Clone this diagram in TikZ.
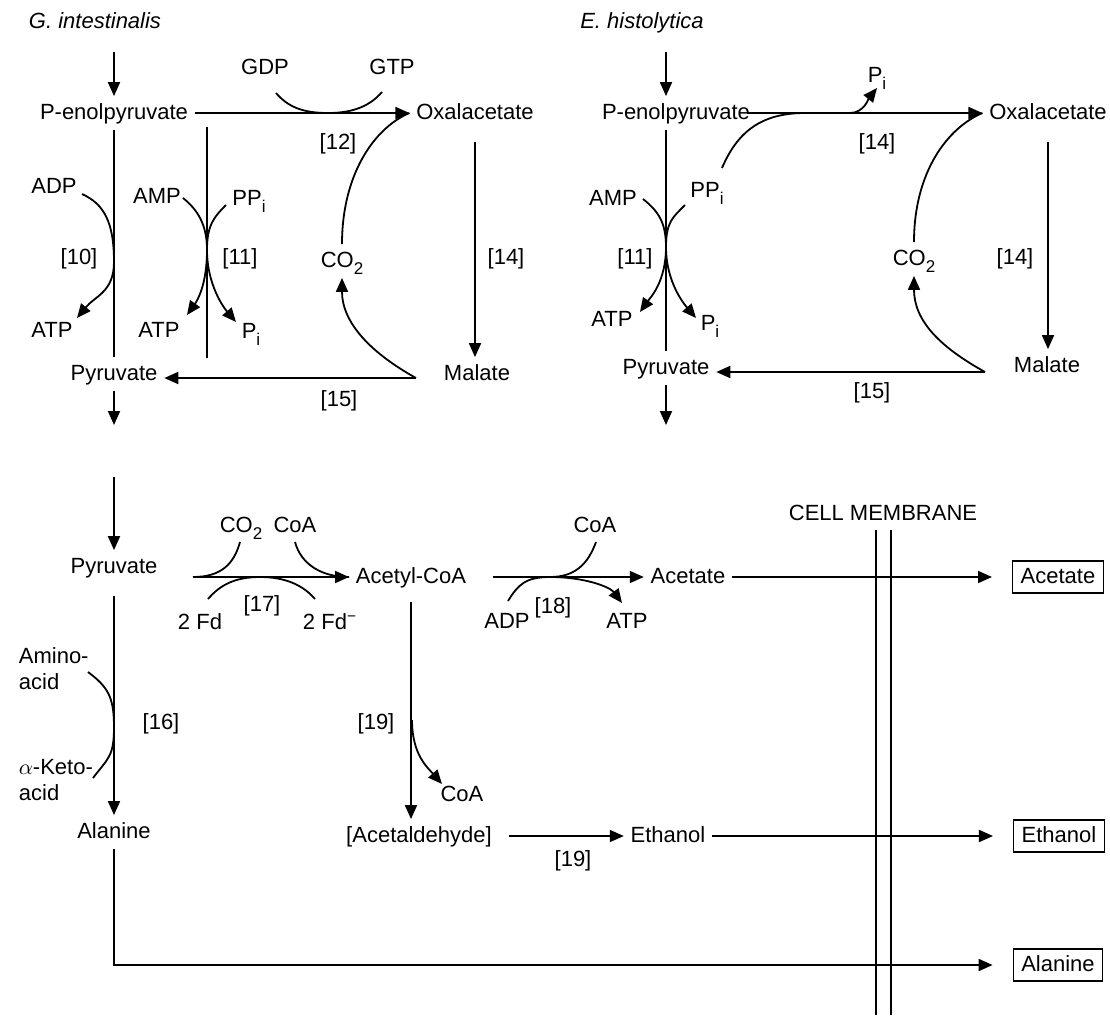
\documentclass[tikz,border=0pt]{standalone}
\usepackage{fontspec}
\setmainfont{Liberation Sans}
\usetikzlibrary{arrows.meta}
\newcommand\chsub[1]{\raisebox{-0.32em}{\fontsize{8.5}{9}\selectfont #1}}

\begin{document}
\begin{tikzpicture}[x=0.5pt,y=-0.5pt,line width=0.9pt,
  chem/.style={inner sep=3pt, text height=8pt, text depth=2pt, font=\fontsize{11}{13}\selectfont},
  twoline/.style={inner sep=0pt, align=left, anchor=west, font=\fontsize{11}{13}\selectfont},
  outbox/.style={chem, draw, line width=0.7pt, inner xsep=4pt, inner ysep=3pt},
  arr/.style={-{Triangle[length=7pt,width=6pt]}}]
  \useasboundingbox (0,0) rectangle (1110,1019);

  % G. intestinalis
  \node[chem, font=\fontsize{11}{13}\selectfont\itshape] (titA) at (95,22) {G. intestinalis};
  \path (114,113) node (penolA) [chem] {P-enolpyruvate};
  \path (475,113) node (oxaA) [chem] {Oxalacetate};
  \path (114,374) node (pyrA) [chem] {Pyruvate};
  \path (477,374) node (malA) [chem] {Malate};
  \node[chem] (gdpA) at (265,68) {GDP};
  \node[chem] (gtpA) at (392,68) {GTP};
  \node[chem] (adpA) at (54,187) {ADP};
  \node[chem] (atpA) at (52,331) {ATP};
  \node[chem] (ampA) at (157,197) {AMP};
  \node[chem] (ppiA) at (249,199) {PP\chsub{i}};
  \node[chem] (atpA2) at (159,331) {ATP};
  \node[chem] (piA) at (251,332) {P\chsub{i}};
  \node[chem] (co2A) at (342,261) {CO\chsub{2}};
  \node[chem] (n10A) at (79,258) {[10]};
  \node[chem] (n11A) at (240,258) {[11]};
  \node[chem] (n12A) at (338,143) {[12]};
  \node[chem] (n14A) at (506,258) {[14]};
  \node[chem] (n15A) at (339,400) {[15]};

  \coordinate (inA) at (114,52);
  \coordinate (outA) at (114,425);
  \coordinate (k12s) at (276,93);
  \coordinate (k12m) at (328,113);
  \coordinate (k12e) at (382,92);
  \coordinate (k10s) at (82,194);
  \coordinate (k10m) at (114,262);
  \coordinate (k10e) at (77,318);
  \coordinate (k11t) at (207,127);
  \coordinate (k11b) at (207,358);
  \coordinate (k11a) at (183,198);
  \coordinate (k11p) at (226,205);
  \coordinate (k11m) at (207,250);
  \coordinate (k11x) at (187,315);
  \coordinate (k11y) at (236,322);
  \coordinate (k15A) at (416,378);

  \draw[arr] (inA) -- (penolA.north);
  \draw[arr] (penolA.east) -- (oxaA.west);
  \draw (k12s) .. controls +(12,14) and +(-25,0) .. (k12m) .. controls +(25,0) and +(-12,14) .. (k12e);
  \draw (penolA.south) -- (pyrA.north);
  \draw[arr] (k10s) .. controls +(22,10) and +(0,-40) .. (k10m) .. controls +(0,30) and +(18,-22) .. (k10e);
  \draw (k11t) -- (k11b);
  \draw (k11a) .. controls +(15,12) and +(0,-25) .. (k11m);
  \draw (k11p) .. controls +(-12,12) and +(0,-25) .. (k11m);
  \draw[arr] (k11m) .. controls +(0,35) and +(10,-14) .. (k11x);
  \draw[arr] (k11m) .. controls +(0,35) and +(-12,-14) .. (k11y);
  \draw (co2A.north) .. controls +(0,-70) and +(-35,15) .. (oxaA.west);
  \draw[arr, shorten <=6pt] (oxaA.south) -- (oxaA.south |- malA.north);
  \draw[arr] (k15A) .. controls +(-45,-25) and +(0,45) .. (co2A.south);
  \draw[arr] (k15A) -- (k15A -| pyrA.east);
  \draw[arr] (pyrA.south) -- (outA);

  % E. histolytica
  \node[chem, font=\fontsize{11}{13}\selectfont\itshape] (titB) at (642,22) {E. histolytica};
  \path (676,113) node (penolB) [chem] {P-enolpyruvate};
  \path (1048,113) node (oxaB) [chem] {Oxalacetate};
  \path (666,368) node (pyrB) [chem] {Pyruvate};
  \path (1047,366) node (malB) [chem] {Malate};
  \node[chem] (piB) at (877,76) {P\chsub{i}};
  \node[chem] (ampB) at (613,199) {AMP};
  \node[chem] (ppiB) at (707,191) {PP\chsub{i}};
  \node[chem] (atpB) at (612,320) {ATP};
  \node[chem] (piB2) at (710,324) {P\chsub{i}};
  \node[chem] (co2B) at (914,259) {CO\chsub{2}};
  \node[chem] (n11B) at (635,258) {[11]};
  \node[chem] (n14B) at (877,143) {[14]};
  \node[chem] (n14C) at (1015,258) {[14]};
  \node[chem] (n15B) at (872,392) {[15]};

  \coordinate (inB) at (666,52);
  \coordinate (outB) at (666,425);
  \coordinate (k11aB) at (643,199);
  \coordinate (k11pB) at (685,205);
  \coordinate (k11mB) at (666,247);
  \coordinate (k11xB) at (640,312);
  \coordinate (k11yB) at (696,318);
  \coordinate (k14s) at (722,168);
  \coordinate (k14t) at (805,113);
  \coordinate (k14u) at (850,113);
  \coordinate (k14e) at (877,88);
  \coordinate (k15B) at (985,372);

  \draw[arr] (inB) -- (inB |- penolB.north);
  \draw[arr, shorten <=-5pt] (penolB.east) -- (oxaB.west);
  \draw[arr] (k14s) .. controls +(15,-35) and +(-45,0) .. (k14t) -- (k14u) .. controls +(14,0) and +(-8,10) .. (k14e);
  \draw (penolB.south -| pyrB) -- (pyrB.north);
  \draw (k11aB) .. controls +(15,12) and +(0,-25) .. (k11mB);
  \draw (k11pB) .. controls +(-12,12) and +(0,-25) .. (k11mB);
  \draw[arr] (k11mB) .. controls +(0,35) and +(10,-14) .. (k11xB);
  \draw[arr] (k11mB) .. controls +(0,35) and +(-12,-14) .. (k11yB);
  \draw (co2B.north) .. controls +(0,-70) and +(-35,15) .. (oxaB.west);
  \draw[arr, shorten <=6pt] (oxaB.south) -- (oxaB.south |- malB.north);
  \draw[arr] (k15B) .. controls +(-45,-25) and +(0,45) .. (co2B.south);
  \draw[arr] (k15B) -- (k15B -| pyrB.east);
  \draw[arr] (pyrB.south) -- (outB);

  % end products
  \path (114,567) node (pyrC) [chem] {Pyruvate};
  \path (411,577) node (acoaC) [chem] {Acetyl-CoA};
  \path (688,577) node (acetC) [chem] {Acetate};
  \path (114,832) node (alaC) [chem] {Alanine};
  \path (419,836) node (acetalC) [chem] {[Acetaldehyde]};
  \path (668,836) node (ethC) [chem] {Ethanol};
  \node[chem] (co2C) at (241,526) {CO\chsub{2}};
  \node[chem] (coaC) at (295,526) {CoA};
  \node[chem] (fdC) at (200,623) {2 Fd};
  \node[chem] (fdmC) at (330,623) {2 Fd\textsuperscript{−}};
  \node[chem] (coaD) at (595,526) {CoA};
  \node[chem] (adpC) at (507,622) {ADP};
  \node[chem] (atpC) at (627,622) {ATP};
  \node[chem] (coaE) at (462,795) {CoA};
  \node[twoline] (aminoC) at (18,669) {Amino-\\acid};
  \node[twoline] (ketoC) at (18,780) {$\alpha$-Keto-\\acid};
  \node[chem] (n16) at (161,723) {[16]};
  \node[chem] (n17) at (262,605) {[17]};
  \node[chem] (n18) at (553,607) {[18]};
  \node[chem] (n19A) at (376,723) {[19]};
  \node[chem] (n19B) at (573,860) {[19]};
  \node[chem] (memC) at (883,514) {CELL MEMBRANE};
  \node[outbox] (boxAc) at (1058,577) {Acetate};
  \node[outbox] (boxEt) at (1059,836) {Ethanol};
  \node[outbox] (boxAl) at (1058,965) {Alanine};

  \coordinate (inC) at (114,477);
  \coordinate (k17s) at (193,577);
  \coordinate (k17a) at (240,542);
  \coordinate (k17b) at (295,542);
  \coordinate (k17c) at (208,599);
  \coordinate (k17m) at (260,577);
  \coordinate (k17d) at (315,599);
  \coordinate (k18s) at (493,577);
  \coordinate (k18a) at (596,542);
  \coordinate (k18m) at (550,577);
  \coordinate (k18b) at (508,601);
  \coordinate (k18e) at (622,603);
  \coordinate (k19a) at (412,720);
  \coordinate (k19e) at (442,784);
  \coordinate (k16a) at (88,672);
  \coordinate (k16m) at (114,727);
  \coordinate (k16b) at (93,778);

  \draw[arr] (inC) -- (pyrC.north);
  \draw[arr] (k17s) -- (acoaC.west);
  \draw (k17a) .. controls +(-6,22) and +(28,0) .. (k17s);
  \draw (k17b) .. controls +(6,22) and +(-28,0) .. (acoaC.west);
  \draw (k17c) .. controls +(12,-14) and +(-25,0) .. (k17m) .. controls +(25,0) and +(-12,-14) .. (k17d);
  \draw[arr] (k18s) -- (acetC.west);
  \draw (k18a) .. controls +(-8,22) and +(25,0) .. (k18m);
  \draw[arr] (k18b) .. controls +(10,-16) and +(-25,0) .. (k18m) .. controls +(35,0) and +(-12,-16) .. (k18e);
  \draw[arr, shorten <=6pt] (pyrC.south) -- (alaC.north);
  \draw (k16a) .. controls +(20,15) and +(0,-30) .. (k16m) .. controls +(0,30) and +(15,-20) .. (k16b);
  \draw[arr, shorten <=4pt] (acoaC.south) -- (acoaC.south |- acetalC.north);
  \draw[arr] (k19a) .. controls +(0,35) and +(-14,-16) .. (k19e);
  \draw[arr, shorten <=5pt] (acetalC.east) -- (ethC.west);
  \draw[line width=0.7pt] (876,530) -- (876,1015) (891,530) -- (891,1015);
  \draw[arr, shorten >=10pt] (acetC.east) -- (boxAc.west);
  \draw[arr, shorten >=10pt] (ethC.east) -- (boxEt.west);
  \draw[arr, shorten >=10pt] (alaC.south) |- (boxAl.west);
\end{tikzpicture}
\end{document}
